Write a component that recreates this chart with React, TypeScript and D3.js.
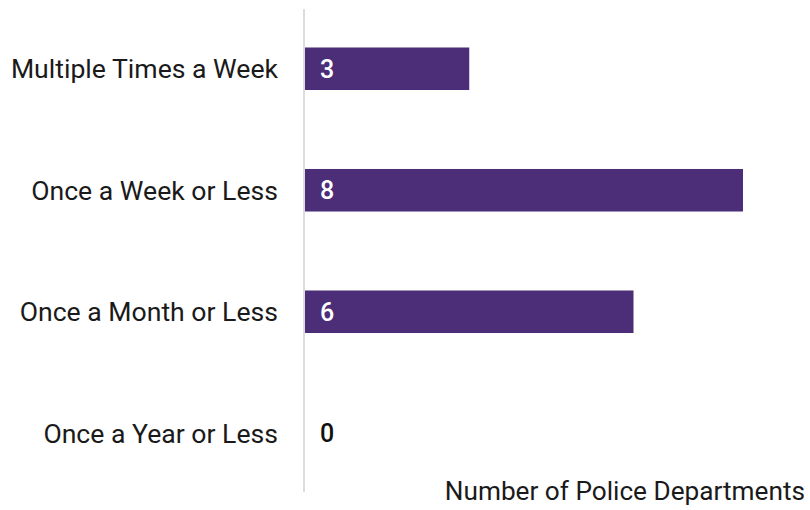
import React from "react";
import * as d3 from "d3";

const categories = [
  "Multiple Times a Week",
  "Once a Week or Less",
  "Once a Month or Less",
  "Once a Year or Less",
];
const values = [3, 8, 6, 0];
const axisTitle = "Number of Police Departments";

const W = 810;
const H = 510;

export default function App() {
  const x = d3.scaleLinear().domain([0, 8]).range([305, 743]);
  const y = d3.scaleBand<string>().domain(categories).range([8, 494]).paddingInner(0.65).paddingOuter(0.325);
  const font = "Roboto, 'Noto Sans', sans-serif";
  return (
    <svg width={W} height={H} style={{ position: "absolute", left: 0, top: 0, background: "#fff" }}>
      <line x1={304} x2={304} y1={9} y2={492} stroke="#dcdcdc" strokeWidth={2} />
      {categories.map((c, i) => {
        const cy = (y(c) as number) + y.bandwidth() / 2;
        const v = values[i];
        return (
          <g key={c}>
            <text x={278} y={cy} dy="0.35em" textAnchor="end" fontFamily={font} fontSize={26.6} fill="#1a1a1a">
              {c}
            </text>
            {v > 0 && (
              <rect x={x(0)} y={y(c)} width={x(v) - x(0)} height={y.bandwidth()} fill="#4b2e77" />
            )}
            <text
              x={x(0) + 15}
              y={cy}
              dy="0.36em"
              fontFamily={font}
              fontSize={25}
              fontWeight={500}
              fill={v > 0 ? "#fff" : "#111"}
            >
              {v}
            </text>
          </g>
        );
      })}
      <text x={805} y={500} textAnchor="end" fontFamily={font} fontSize={26.2} fill="#1a1a1a">
        {axisTitle}
      </text>
    </svg>
  );
}
